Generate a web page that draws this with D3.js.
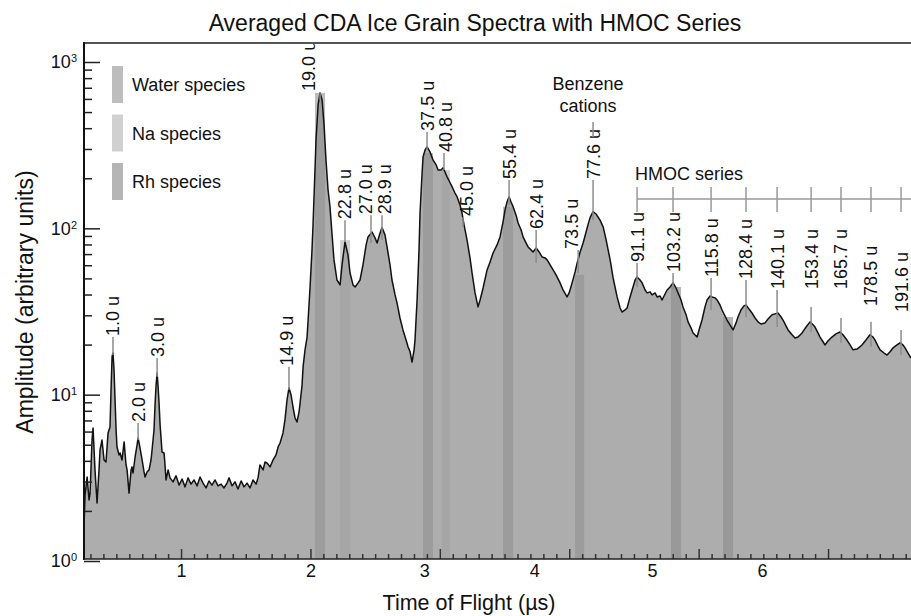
<!DOCTYPE html>
<html>
<head>
<meta charset="utf-8">
<script src="https://cdn.jsdelivr.net/npm/d3@7"></script>
<style>
  body { margin: 0; background: #ffffff; }
  text { font-family: "Liberation Sans", Arial, sans-serif; fill: #111111; }
</style>
</head>
<body>
<div id="Chart"></div>
<script>
// Averaged CDA ice grain spectrum, log amplitude vs time of flight,
// with species bands, peak mass labels and the HMOC series bracket

//////////////////////////////////////////////////////////////////////////
// global variables

var Width = 911;       // of svg
var Height = 616;      // of svg
var PlotLeft = 84;     // left axis line
var PlotRight = 911;   // plot runs off the right edge
var PlotTop = 43;      // top frame line
var PlotBottom = 559;  // bottom axis line

var LabelFont = "18px";

//////////////////////////////////////////////////////////////////////////
// data

// spectrum: time of flight (µs) and amplitude (arbitrary units)
var tofTimes = [
    0.250,0.258,0.274,0.289,0.297,0.312,0.320,0.335,0.351,0.366,
    0.374,0.389,0.405,0.420,0.436,0.451,0.459,0.467,0.474,0.482,
    0.490,0.498,0.505,0.521,0.529,0.544,0.560,0.575,0.583,0.598,
    0.614,0.621,0.629,0.645,0.660,0.668,0.683,0.699,0.714,0.722,
    0.737,0.753,0.768,0.776,0.791,0.799,0.807,0.815,0.822,0.830,
    0.838,0.853,0.869,0.876,0.884,0.900,0.915,0.938,0.961,0.985,
    1.008,1.031,1.054,1.077,1.100,1.124,1.147,1.170,1.193,1.216,
    1.239,1.263,1.286,1.309,1.332,1.355,1.371,1.394,1.417,1.440,
    1.464,1.487,1.510,1.533,1.556,1.580,1.595,1.610,1.634,1.649,
    1.665,1.688,1.711,1.734,1.750,1.765,1.788,1.803,1.819,1.834,
    1.850,1.865,1.881,1.896,1.912,1.920,1.935,1.943,1.958,1.974,
    1.982,1.997,2.012,2.020,2.035,2.043,2.059,2.074,2.090,2.105,
    2.120,2.136,2.151,2.167,2.182,2.205,2.229,2.244,2.267,2.290,
    2.306,2.329,2.345,2.368,2.383,2.406,2.430,2.445,2.476,2.499,
    2.515,2.538,2.553,2.576,2.592,2.615,2.630,2.654,2.669,2.692,
    2.715,2.739,2.754,2.770,2.785,2.801,2.808,2.824,2.839,2.847,
    2.862,2.870,2.886,2.901,2.924,2.947,2.971,2.986,3.009,3.025,
    3.040,3.056,3.079,3.094,3.117,3.133,3.156,3.171,3.187,3.210,
    3.233,3.249,3.272,3.295,3.311,3.334,3.365,3.388,3.411,3.442,
    3.465,3.488,3.504,3.519,3.535,3.550,3.566,3.589,3.604,3.628,
    3.643,3.666,3.682,3.705,3.720,3.744,3.767,3.790,3.813,3.829,
    3.852,3.875,3.898,3.929,3.952,3.983,3.999,4.022,4.045,4.061,
    4.084,4.107,4.130,4.146,4.161,4.184,4.207,4.238,4.262,4.285,
    4.316,4.339,4.370,4.393,4.408,4.431,4.447,4.470,4.486,4.509,
    4.524,4.547,4.563,4.586,4.602,4.625,4.640,4.663,4.679,4.702,
    4.717,4.740,4.756,4.779,4.802,4.825,4.841,4.864,4.879,4.903,
    4.918,4.941,4.957,4.988,5.003,5.026,5.049,5.065,5.088,5.103,
    5.127,5.142,5.165,5.181,5.204,5.219,5.242,5.266,5.289,5.304,
    5.327,5.350,5.366,5.389,5.412,5.436,5.459,5.482,5.513,5.536,
    5.567,5.590,5.613,5.637,5.652,5.675,5.691,5.722,5.745,5.768,
    5.799,5.830,5.861,5.884,5.899,5.922,5.938,5.961,5.976,5.999,
    6.030,6.061,6.092,6.115,6.146,6.170,6.193,6.224,6.262,6.293,
    6.324,6.348,6.363,6.386,6.402,6.433,6.456,6.479,6.502,6.533,
    6.556,6.579,6.595,6.618,6.641];

var amplitudes = [
    1.60,2.49,3.20,2.33,2.56,5.34,6.31,3.53,2.23,3.53,
    4.65,5.34,4.05,3.94,5.89,6.39,10.7,16.9,17.8,14.1,
    9.29,6.13,4.85,4.34,4.46,4.05,5.20,3.78,3.53,2.56,
    3.53,3.68,3.38,4.22,4.98,5.49,4.78,4.05,3.43,3.20,
    3.43,3.53,4.05,4.65,6.13,8.67,11.4,13.5,11.4,8.91,
    6.58,4.52,4.46,3.78,3.07,3.53,3.16,2.99,3.25,2.86,
    3.11,2.79,3.16,2.90,3.07,2.83,3.20,2.94,2.75,3.03,
    2.86,3.07,2.83,2.90,2.75,2.94,3.16,2.83,2.99,2.71,
    3.03,2.79,2.94,2.75,3.07,2.90,3.16,3.78,3.53,3.94,
    3.88,3.68,4.05,4.34,4.85,5.12,5.89,7.05,9.29,11.0,
    9.96,8.43,7.24,6.85,7.87,8.91,11.4,14.7,18.6,22.2,
    28.1,44.4,74.2,105,224,340,552,652,592,419,
    258,170,135,91.3,64.6,48.9,45.7,60.3,82.8,69.2,
    53.9,45.7,44.4,47.0,48.9,60.3,79.5,88.8,95.1,87.6,
    81.7,93.8,101,91.3,77.3,60.3,48.9,39.8,35.6,28.9,
    24.5,21.3,19.4,18.1,15.7,18.6,21.3,37.1,74.2,124,
    210,269,296,309,288,258,241,224,224,231,
    218,204,188,178,163,155,138,124,105,85.2,
    66.4,53.9,40.9,33.7,37.1,43.8,56.2,62.8,71.1,79.5,
    88.8,109,129,144,155,144,135,120,108,97.8,
    88.8,81.7,77.3,74.2,72.1,76.2,72.1,67.3,66.4,64.6,
    60.3,56.2,52.5,47.0,42.6,38.7,40.9,47.0,54.7,61.9,
    72.1,81.7,95.1,106,116,126,122,112,102,85.2,
    64.6,50.3,38.7,33.2,31.4,32.3,33.2,38.7,42.6,48.9,
    51.0,48.9,47.0,42.6,40.9,41.5,39.8,40.9,38.7,39.2,
    37.1,40.3,42.6,44.4,47.0,43.8,40.9,37.1,33.7,30.2,
    27.4,25.2,23.5,22.2,24.5,28.1,33.7,37.1,39.2,38.7,
    38.2,37.1,34.6,32.3,29.7,28.1,26.3,24.5,27.0,29.3,
    32.3,34.2,34.6,32.7,31.0,28.9,27.4,26.6,27.0,28.5,
    30.2,30.6,31.0,29.3,28.1,25.9,24.5,22.9,21.9,22.2,
    23.5,25.5,27.4,26.3,25.5,23.5,22.2,20.8,19.9,21.0,
    22.2,23.2,23.8,22.9,21.3,19.9,18.6,18.8,19.9,21.3,
    22.9,22.2,21.3,19.6,18.6,17.8,17.3,18.1,19.1,19.9,
    20.5,19.9,19.1,17.8,16.6];

// labelled peaks: name, time, amplitude where the text starts, stem end
var peakNames = ["1.0 u","2.0 u","3.0 u","14.9 u","19.0 u","22.8 u","27.0 u","28.9 u",
                 "37.5 u","40.8 u","45.0 u","55.4 u","62.4 u","73.5 u","77.6 u"];
var peakTimes = [0.474,0.668,0.815,1.834,2.074,2.267,2.468,2.553,
                 2.901,3.032,3.179,3.535,3.744,4.069,4.184];
var peakTextLevel = [22.2,6.76,16.6,14.7,661,112,120,120,380,284,117,195,97.8,74.2,195];
var peakStemLow = [17.3,5.34,12.8,10.7,592,82.8,81.7,85.2,296,224,102,138,61.9,53.9,112];

// HMOC series peaks
var hmocNames = ["91.1 u","103.2 u","115.8 u","128.4 u","140.1 u",
                 "153.4 u","165.7 u","178.5 u","191.6 u"];
var hmocTimes = [4.524,4.802,5.096,5.366,5.606,5.869,6.100,6.332,6.564];
var hmocTextLevel = [61.9,53.9,50.3,48.9,42.6,42.6,42.6,33.7,31.0];
var hmocStemTop = [61.9,53.9,50.3,48.9,42.6,33.7,28.9,27.4,24.5];
var hmocStemLow = [44.4,42.6,32.3,29.3,25.5,23.8,20.5,19.4,17.3];

// species bands: species, start / end time, top amplitude
var bandSpecies = ["water","na","water","na","water","water","rh","rh"];
var bandStart = [2.035,2.229,2.870,3.017,3.488,4.045,4.786,5.188];
var bandEnd = [2.113,2.306,2.947,3.079,3.566,4.115,4.864,5.266];
var bandTop = [652,85,284,224,135,52.5,44.4,29.3];

var legendKeys = ["water","na","rh"];
var legendNames = ["Water species","Na species","Rh species"];

// axes
var xMajorTicks = [1,2,3,4,5,6];
var xTickLabels = ["1","2","3","4","5","6"];
var xTickLabelTimes = [1,2,2.88,3.73,4.64,5.49];   // where the labels sit
var yMajorTicks = [1,10,100,1000];

//////////////////////////////////////////////////////////////////////////
// styles

var FillGray = "#adadad";
var BandColor = { water: "#919191", na: "#9f9f9f", rh: "#8f8f8f" };
var BandOpacity = { water: 0.6, na: 0.49, rh: 0.66 };
var StemGray = "#8c8c8c";

//////////////////////////////////////////////////////////////////////////
// functions start here

function initialize () {

    var svg = d3.select("#Chart")
        .append("svg")
        .attr("width", Width)
        .attr("height", Height);

    var xScale = d3.scaleLinear()
        .domain([0.25, 6.641])
        .range([PlotLeft, PlotRight]);

    var yScale = d3.scaleLog()
        .domain([1, 1000])
        .range([561, 62]);

    var data = tofTimes.map(function (t, i) {
        return { t: t, a: amplitudes[i] };
    });

    svg.append("defs").append("clipPath")
        .attr("id", "plotClip")
        .append("rect")
        .attr("x", PlotLeft)
        .attr("y", PlotTop)
        .attr("width", PlotRight - PlotLeft)
        .attr("height", PlotBottom - PlotTop);

    var plot = svg.append("g").attr("clip-path", "url(#plotClip)");

    makeSpectrum (plot, data, xScale, yScale);
    makePeakLabels (svg, xScale, yScale);
    makeHmoc (svg, xScale, yScale);
    makeAxes (svg, xScale, yScale);
    makeLegend (svg);
    makeTitles (svg);

} // end initialize

// filled spectrum, species bands and the outline on top
function makeSpectrum (plot, data, xScale, yScale) {

    var area = d3.area()
        .x(function (d) { return xScale(d.t); })
        .y0(PlotBottom)
        .y1(function (d) { return yScale(d.a); });

    plot.append("path")
        .datum(data)
        .attr("d", area)
        .attr("fill", FillGray);

    plot.selectAll("rect.band")
        .data(bandSpecies)
        .enter()
        .append("rect")
        .attr("class", "band")
        .attr("x", function (d, i) { return xScale(bandStart[i]); })
        .attr("y", function (d, i) { return yScale(bandTop[i]); })
        .attr("width", function (d, i) { return xScale(bandEnd[i]) - xScale(bandStart[i]); })
        .attr("height", function (d, i) { return PlotBottom - yScale(bandTop[i]); })
        .attr("fill", function (d) { return BandColor[d]; })
        .attr("fill-opacity", function (d) { return BandOpacity[d]; });

    var line = d3.line()
        .x(function (d) { return xScale(d.t); })
        .y(function (d) { return yScale(d.a); });

    plot.append("path")
        .datum(data)
        .attr("d", line)
        .attr("fill", "none")
        .attr("stroke", "#111")
        .attr("stroke-width", 1.5)
        .attr("stroke-linejoin", "round");

} // end makeSpectrum

// rotated mass labels with their little stems
function makePeakLabels (svg, xScale, yScale) {

    // a few labels sit off their stem in the original
    var nudge = { "14.9 u": -2, "19.0 u": -12, "27.0 u": -5, "28.9 u": 3,
                  "40.8 u": 2, "45.0 u": 4, "73.5 u": -7 };

    svg.selectAll("line.peakStem")
        .data(peakNames)
        .enter()
        .append("line")
        .attr("class", "peakStem")
        .attr("x1", function (d, i) { return xScale(peakTimes[i]); })
        .attr("x2", function (d, i) { return xScale(peakTimes[i]); })
        .attr("y1", function (d, i) { return yScale(peakTextLevel[i]); })
        .attr("y2", function (d, i) { return yScale(peakStemLow[i]); })
        .attr("stroke", StemGray)
        .attr("stroke-width", 1.5);

    svg.selectAll("text.peakLabel")
        .data(peakNames)
        .enter()
        .append("text")
        .attr("class", "peakLabel")
        .attr("transform", function (d, i) {
            var x = xScale(peakTimes[i]) + (nudge[d] || 0);
            return "translate(" + x + "," + (yScale(peakTextLevel[i]) - 1) + ") rotate(-90)";
        })
        .attr("dy", "0.36em")
        .attr("font-size", LabelFont)
        .text(function (d) { return d; });

    // benzene cations note above the 77.6 u peak
    var bx = xScale(peakTimes[14]);
    svg.append("line")
        .attr("x1", bx).attr("x2", bx)
        .attr("y1", 122).attr("y2", 137)
        .attr("stroke", StemGray)
        .attr("stroke-width", 1.5);

    svg.append("text")
        .attr("x", bx - 5)
        .attr("y", 90)
        .attr("text-anchor", "middle")
        .attr("font-size", LabelFont)
        .text("Benzene");

    svg.append("text")
        .attr("x", bx - 5)
        .attr("y", 112)
        .attr("text-anchor", "middle")
        .attr("font-size", LabelFont)
        .text("cations");

} // end makePeakLabels

// HMOC bracket, its ticks and the labels below
function makeHmoc (svg, xScale, yScale) {

    var lineY = 199;

    svg.append("line")
        .attr("x1", xScale(hmocTimes[0]))
        .attr("x2", PlotRight)
        .attr("y1", lineY)
        .attr("y2", lineY)
        .attr("stroke", "#999")
        .attr("stroke-width", 1.5);

    svg.selectAll("line.hmocTick")
        .data(hmocTimes)
        .enter()
        .append("line")
        .attr("class", "hmocTick")
        .attr("x1", function (d) { return xScale(d); })
        .attr("x2", function (d) { return xScale(d); })
        .attr("y1", lineY - 12)
        .attr("y2", lineY + 13)
        .attr("stroke", "#999")
        .attr("stroke-width", 1.5);

    svg.append("text")
        .attr("x", xScale(hmocTimes[0]) - 2)
        .attr("y", 180)
        .attr("font-size", LabelFont)
        .text("HMOC series");

    svg.selectAll("line.hmocStem")
        .data(hmocNames)
        .enter()
        .append("line")
        .attr("class", "hmocStem")
        .attr("x1", function (d, i) { return xScale(hmocTimes[i]); })
        .attr("x2", function (d, i) { return xScale(hmocTimes[i]); })
        .attr("y1", function (d, i) { return yScale(hmocStemTop[i]); })
        .attr("y2", function (d, i) { return yScale(hmocStemLow[i]); })
        .attr("stroke", StemGray)
        .attr("stroke-width", 1.5);

    svg.selectAll("text.hmocLabel")
        .data(hmocNames)
        .enter()
        .append("text")
        .attr("class", "hmocLabel")
        .attr("transform", function (d, i) {
            return "translate(" + xScale(hmocTimes[i]) + "," +
                (yScale(hmocTextLevel[i]) - 1) + ") rotate(-90)";
        })
        .attr("dy", "0.36em")
        .attr("font-size", LabelFont)
        .text(function (d) { return d; });

} // end makeHmoc

// inward ticks on both axes, frame lines and tick labels
function makeAxes (svg, xScale, yScale) {

    var xMinor = d3.range(3, 67).map(function (k) { return k / 10; })
        .filter(function (v) { return Math.abs(v - Math.round(v)) > 1e-6; });

    var xMinorAxis = d3.axisBottom(xScale).tickValues(xMinor).tickSize(-5).tickFormat("");
    var xMajorAxis = d3.axisBottom(xScale).tickValues(xMajorTicks).tickSize(-10).tickFormat("");
    var xLabelAxis = d3.axisBottom(xScale)
        .tickValues(xTickLabelTimes)
        .tickSize(0)
        .tickPadding(5)
        .tickFormat(function (d, i) { return xTickLabels[i]; });

    [xMinorAxis, xMajorAxis, xLabelAxis].forEach(function (ax) {
        var g = svg.append("g")
            .attr("transform", "translate(0," + PlotBottom + ")")
            .call(ax);
        g.select(".domain").remove();
        g.selectAll("line").attr("stroke", "#333").attr("stroke-width", 1.5);
        g.selectAll("text")
            .attr("font-size", "18px")
            .attr("font-family", "Liberation Sans, Arial, sans-serif")
            .attr("fill", "#111");
    });

    var yMinor = [];
    [1, 10, 100].forEach(function (dec) {
        for (var k = 2; k <= 9; k++) { yMinor.push(k * dec); }
    });

    var yMinorAxis = d3.axisLeft(yScale).tickValues(yMinor).tickSize(-8).tickFormat("");
    var yMajorAxis = d3.axisLeft(yScale).tickValues(yMajorTicks).tickSize(-16).tickFormat("");

    [yMinorAxis, yMajorAxis].forEach(function (ax) {
        var g = svg.append("g")
            .attr("transform", "translate(" + PlotLeft + ",0)")
            .call(ax);
        g.select(".domain").remove();
        g.selectAll("line").attr("stroke", "#222").attr("stroke-width", 1.5);
    });

    // power of ten labels
    var yLabels = svg.selectAll("text.yLabel")
        .data(yMajorTicks)
        .enter()
        .append("text")
        .attr("class", "yLabel")
        .attr("x", PlotLeft - 7)
        .attr("y", function (d) { return yScale(d); })
        .attr("dy", "0.36em")
        .attr("text-anchor", "end")
        .attr("font-size", "18px");

    yLabels.append("tspan").text("10");
    yLabels.append("tspan")
        .attr("dy", "-0.55em")
        .attr("font-size", "11px")
        .text(function (d) { return Math.round(Math.log10(d)); });

    // frame lines
    svg.append("line")
        .attr("x1", PlotLeft).attr("x2", PlotRight)
        .attr("y1", PlotTop).attr("y2", PlotTop)
        .attr("stroke", "#555").attr("stroke-width", 2);

    svg.append("line")
        .attr("x1", PlotLeft).attr("x2", PlotLeft)
        .attr("y1", PlotTop - 1).attr("y2", PlotBottom + 1)
        .attr("stroke", "#111").attr("stroke-width", 2);

    svg.append("line")
        .attr("x1", PlotLeft).attr("x2", PlotRight)
        .attr("y1", PlotBottom).attr("y2", PlotBottom)
        .attr("stroke", "#222").attr("stroke-width", 1.5);

} // end makeAxes

// species legend at top left
function makeLegend (svg) {

    var legend = svg.selectAll("g.legendItem")
        .data(legendKeys)
        .enter()
        .append("g")
        .attr("class", "legendItem")
        .attr("transform", function (d, i) { return "translate(112," + (66 + i * 48.5) + ")"; });

    legend.append("rect")
        .attr("width", 11)
        .attr("height", 37)
        .attr("fill", function (d) { return BandColor[d]; })
        .attr("fill-opacity", function (d) { return BandOpacity[d]; });

    legend.append("text")
        .attr("x", 20)
        .attr("y", 25)
        .attr("font-size", "18px")
        .text(function (d, i) { return legendNames[i]; });

} // end makeLegend

// title and axis titles
function makeTitles (svg) {

    svg.append("text")
        .attr("x", 475)
        .attr("y", 31)
        .attr("text-anchor", "middle")
        .attr("font-size", "23px")
        .text("Averaged CDA Ice Grain Spectra with HMOC Series");

    svg.append("text")
        .attr("x", 469)
        .attr("y", 610)
        .attr("text-anchor", "middle")
        .attr("font-size", "21.5px")
        .text("Time of Flight (µs)");

    svg.append("text")
        .attr("transform", "translate(33,302) rotate(-90)")
        .attr("text-anchor", "middle")
        .attr("font-size", "23px")
        .text("Amplitude (arbitrary units)");

} // end makeTitles

//////////////////////////////////////////////////////////////////////////
initialize();
</script>
</body>
</html>
